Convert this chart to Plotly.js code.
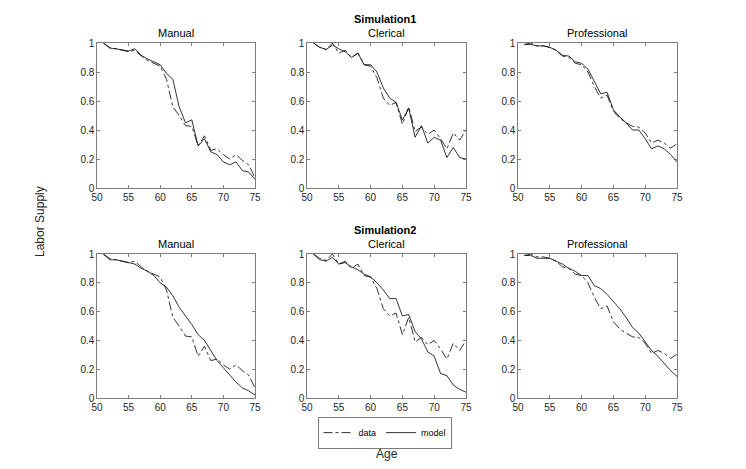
<!DOCTYPE html>
<html>
<head>
<meta charset="utf-8">
<script src="https://cdn.plot.ly/plotly-3.0.1.min.js"></script>
<style>html,body{margin:0;padding:0;background:#fff}#chart{width:746px;height:469px}</style>
</head>
<body>
<div id="chart"></div>
<script>
var ages = [51,52,53,54,55,56,57,58,59,60,61,62,63,64,65,66,67,68,69,70,71,72,73,74,75];
var groups = ["Manual","Clerical","Professional"];
var simTitles = ["Simulation1","Simulation2"];

var dataManual = [1.0,0.97,0.96,0.95,0.94,0.95,0.91,0.88,0.86,0.84,0.75,0.56,0.50,0.43,0.425,0.29,0.36,0.26,0.27,0.23,0.20,0.23,0.19,0.16,0.07];
var dataClerical = [1.0,0.97,0.955,1.0,0.93,0.95,0.90,0.93,0.85,0.84,0.76,0.62,0.57,0.59,0.44,0.56,0.39,0.42,0.37,0.40,0.34,0.27,0.38,0.33,0.40];
var dataProfessional = [0.99,1.0,0.98,0.98,0.97,0.95,0.91,0.90,0.86,0.85,0.80,0.70,0.62,0.64,0.53,0.48,0.45,0.425,0.42,0.38,0.31,0.33,0.31,0.275,0.305];

var sim1Manual = [1.0,0.965,0.96,0.95,0.945,0.96,0.915,0.89,0.87,0.85,0.79,0.75,0.56,0.45,0.47,0.29,0.34,0.25,0.23,0.18,0.16,0.18,0.12,0.11,0.06];
var sim1Clerical = [1.0,0.97,0.955,0.985,0.96,0.94,0.90,0.93,0.85,0.85,0.80,0.69,0.62,0.59,0.47,0.55,0.35,0.43,0.31,0.35,0.33,0.21,0.28,0.21,0.20];
var sim1Professional = [0.99,0.99,0.98,0.98,0.97,0.95,0.915,0.91,0.87,0.86,0.82,0.74,0.65,0.66,0.54,0.49,0.45,0.40,0.40,0.34,0.27,0.29,0.27,0.23,0.18];

var sim2Manual = [1.0,0.96,0.96,0.95,0.94,0.93,0.90,0.88,0.85,0.80,0.77,0.71,0.63,0.57,0.51,0.44,0.40,0.33,0.26,0.21,0.16,0.11,0.07,0.05,0.02];
var sim2Clerical = [1.0,0.96,0.95,0.977,0.93,0.94,0.91,0.89,0.86,0.84,0.80,0.75,0.69,0.69,0.57,0.58,0.46,0.41,0.32,0.29,0.17,0.155,0.09,0.06,0.04];
var sim2Professional = [0.99,0.99,0.97,0.97,0.97,0.95,0.93,0.90,0.88,0.85,0.85,0.78,0.76,0.72,0.67,0.62,0.56,0.49,0.45,0.39,0.33,0.29,0.24,0.19,0.15];

var xTicks = [50,55,60,65,70,75];
var yTicks = [0,0.2,0.4,0.6,0.8,1];
var yTickLabels = ["0","0.2","0.4","0.6","0.8","1"];

var dataSeries = [dataManual, dataClerical, dataProfessional];
var modelSeries = [[sim1Manual, sim1Clerical, sim1Professional],[sim2Manual, sim2Clerical, sim2Professional]];

var W = 746, H = 469;
var xDom = [[97/W,255/W],[307/W,466/W],[518/W,677/W]];
var yDom = [[(H-188)/H,(H-43)/H],[(H-398)/H,(H-254)/H]];
var FONT = "Liberation Sans, Arial, Helvetica, sans-serif";
var AX = "#262626";

var traces = [];
var layout = {
  width: W, height: H,
  margin: {l:0,r:0,t:0,b:0},
  paper_bgcolor: "#fff", plot_bgcolor: "#fff",
  font: {family: FONT, size: 10, color: AX},
  showlegend: true,
  legend: {
    orientation: "h", x: 385/W, xanchor: "center", y: (H-433)/H, yanchor: "middle",
    bgcolor: "#fff", bordercolor: AX, borderwidth: 0.6,
    font: {family: FONT, size: 9, color: "#000"},
    tracegroupgap: 0, itemclick: false
  },
  annotations: []
};

for (var r = 0; r < 2; r++) {
  for (var c = 0; c < 3; c++) {
    var idx = r*3 + c + 1;
    var xa = idx === 1 ? "x" : "x" + idx;
    var ya = idx === 1 ? "y" : "y" + idx;
    var xk = idx === 1 ? "xaxis" : "xaxis" + idx;
    var yk = idx === 1 ? "yaxis" : "yaxis" + idx;
    traces.push({
      x: ages, y: dataSeries[c], xaxis: xa, yaxis: ya, type: "scatter", mode: "lines",
      line: {color: "#000", width: 0.8, dash: "dashdot"},
      name: "data", showlegend: idx === 1, legendgroup: "data"
    });
    traces.push({
      x: ages, y: modelSeries[r][c], xaxis: xa, yaxis: ya, type: "scatter", mode: "lines",
      line: {color: "#000", width: 0.8},
      name: "model", showlegend: idx === 1, legendgroup: "model"
    });
    layout[xk] = {
      domain: xDom[c], anchor: ya, range: [50,75], tickvals: xTicks,
      ticks: "inside", ticklen: 3, tickwidth: 0.6, tickcolor: AX,
      showline: true, linecolor: AX, linewidth: 0.6, mirror: "allticks",
      showgrid: false, zeroline: false, fixedrange: true,
      tickfont: {family: FONT, size: 10, color: AX}
    };
    layout[yk] = {
      domain: yDom[r], anchor: xa, range: [0,1], tickvals: yTicks, ticktext: yTickLabels,
      ticks: "inside", ticklen: 3, tickwidth: 0.6, tickcolor: AX,
      showline: true, linecolor: AX, linewidth: 0.6, mirror: "allticks",
      showgrid: false, zeroline: false, fixedrange: true,
      tickfont: {family: FONT, size: 10, color: AX}
    };
    layout.annotations.push({
      text: groups[c], xref: "paper", yref: "paper",
      x: (xDom[c][0]+xDom[c][1])/2, y: yDom[r][1], yshift: 2,
      xanchor: "center", yanchor: "bottom", showarrow: false,
      font: {family: FONT, size: 11, color: "#000"}
    });
  }
  layout.annotations.push({
    text: "<b>" + simTitles[r] + "</b>", xref: "paper", yref: "paper",
    x: 385/W, y: yDom[r][1], yshift: 16,
    xanchor: "center", yanchor: "bottom", showarrow: false,
    font: {family: FONT, size: 11, color: "#000"}
  });
}
layout.annotations.push({
  text: "Labor Supply", xref: "paper", yref: "paper", x: 40/W, y: (H-222)/H,
  xanchor: "center", yanchor: "middle", textangle: -90, showarrow: false,
  font: {family: FONT, size: 12, color: AX}
});
layout.annotations.push({
  text: "Age", xref: "paper", yref: "paper", x: 387/W, y: (H-454)/H,
  xanchor: "center", yanchor: "middle", showarrow: false,
  font: {family: FONT, size: 12, color: AX}
});

Plotly.newPlot("chart", traces, layout, {staticPlot: true, displayModeBar: false});
</script>
</body>
</html>
